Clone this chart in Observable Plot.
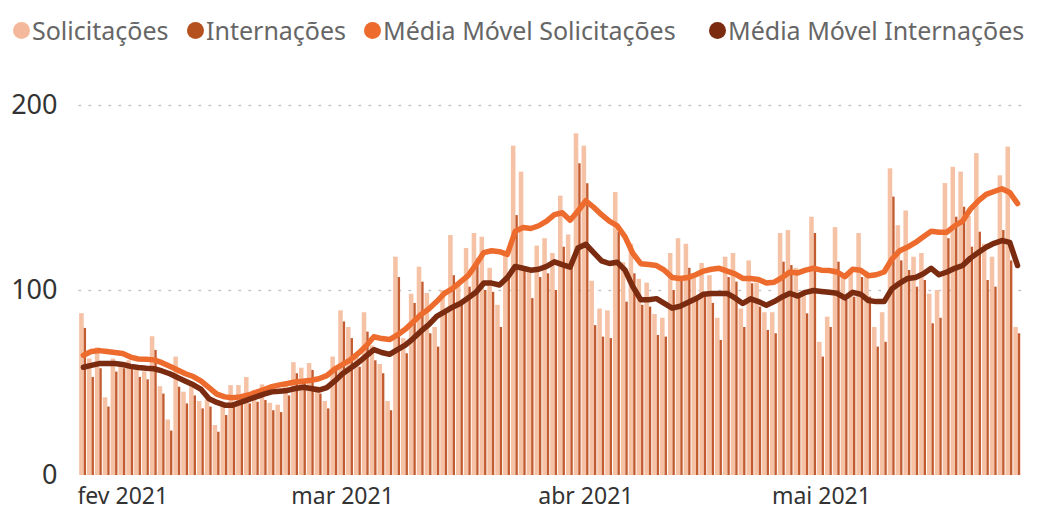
<!DOCTYPE html>
<html><head><meta charset="utf-8">
<script src="https://cdn.jsdelivr.net/npm/d3@7"></script>
<script src="https://cdn.jsdelivr.net/npm/@observablehq/plot@0.6"></script>
<style>
body{margin:0;background:#fff;font-family:"Noto Sans",sans-serif;}
#legend{position:relative;height:60px;width:1042px;}
.item{position:absolute;top:13px;display:flex;align-items:center;font-size:25px;color:#666;white-space:nowrap;line-height:34px}
.dot{width:17px;height:17px;border-radius:50%;margin-right:2px}
</style></head><body>
<div id="legend"></div><div id="chart"></div>
<script>
const startDate = "2021-01-27";
const solicitacoes = [87.5,63,69,42,63,61,62,57,56,75,48,30,64,45,48,40,41,27,37,48.6,48.6,53,46,49,39,38,50,61,58,60.5,48,40,64,89,80,66,88,70,60,40,118,74,98,112.6,98.4,80,100,129.7,103,122.7,130.8,128.8,112,92,120,178,164,110,124,128,120,151,130,184.7,178,105,90,89,153,115,125,106,104,87,85,120,128,125,108,114.6,108,85,118,120,90,116,104,88,88,130.8,132.4,112,100,139.6,72,85.6,134,108,110,130.8,110,80,88,165.8,135,143,118,120,98,100,157.8,166.6,164,140,174,125,118,162,177.5,80];
const internacoes = [79.5,53,57.7,37,55.9,57.7,57.7,53,51.7,67.6,44,24,47.7,38.7,43,36,37,23.4,32.4,37,38.7,38.7,39.6,40.5,35,34,43,55,49.7,56.8,44,36,57.8,83,74,58.5,77.5,62,55,35,107,65.8,93,104.5,76.6,69.4,87.4,108,92,101.8,117,100,99,80,107,140.5,112.6,95.6,107,109,100,123.4,112.6,168.5,157.7,81,74.8,74,131.5,93.7,109,92,91,75.7,74.8,100,105.4,112,94.6,98.4,93,73,107,104.5,80,103.6,91,78.4,76.6,115.3,113.5,98.4,87.4,130.8,64,80,115.3,94.6,96.4,107,96.4,69.4,72,150.5,116,110.8,101.8,105.4,82,85,128,139.6,145,123.4,131.5,105.4,101.8,132.4,116,76.6];
const mediaSolicitacoes = [65,67,67.5,67,66.5,66,64,63,62.8,62.5,61,59,57,55,53.5,51,47.5,44,42.5,42,42.5,43.5,45,46.5,48,49,49.7,50.5,51,51.5,52.3,54,57.5,60,62.5,66,70,75,74,73.5,76,79,83,87,90,94,98.5,101,104.5,108,114,120.5,121.5,121,119.5,132,134,133.5,135,137.5,141,142,138,143,148.5,145,141,137.5,135,129,120,114.5,114,113.5,111,107,106.5,107,108.5,110.5,111.5,112,110.5,109,106.5,106.5,106,104,104.5,107,110,109.5,111,112,111,110.8,110,107.5,111.5,111,108,108.5,110,117,121.5,123.5,126,129,132,131.5,131.5,135,137.5,144,148.5,152,153.5,155,153,147];
const mediaInternacoes = [58.5,59.5,60.5,60.5,60.5,60,59,58.4,58,57.7,56.5,55,53,51,49,46.5,41.5,39.5,38,38,39.5,41,42.5,44,45.2,45.6,46,47,47.7,47,46.2,47.5,51,55,58,61,64.5,68,66.5,65.5,68,70.5,74,78,81.5,86,88.5,91,93,96,99,104,104,103,107,113,112,111,111.5,113,115.5,114,112.6,123,125,120.5,116,114.6,115.3,111,102,95,95,95.6,93,90.5,91.5,93.5,95.5,98,98.4,98.4,98.4,96,93,95.5,94,92,94,96.5,98.5,97,99,100,99.5,99,98.5,96,99,98,94.6,94,94,101,104,106.5,107,109,112,108.5,110,112,113.5,117.5,120.5,123.4,125.5,127,126,113.5];
const legendLabels = ["Solicitações","Internações","Média Móvel Solicitações","Média Móvel Internações"];
const legendColors = ["#f4b99c","#b5501f","#ec6b2d","#7a2b10"];
const legendX = [13, 187, 364, 709];
const monthTicks = ["2021-02-01","2021-03-01","2021-04-01","2021-05-01"];
const monthLabels = ["fev 2021","mar 2021","abr 2021","mai 2021"];
const yTicks = [0,100,200];

const DAY = 864e5;
const t0 = new Date(startDate + "T00:00:00Z");
const rows = solicitacoes.map((s, i) => ({
  date: new Date(+t0 + i*DAY),
  sol: s, int: internacoes[i], mSol: mediaSolicitacoes[i], mInt: mediaInternacoes[i]
}));
const off = (d, f) => new Date(+d + f*DAY);

const legend = document.getElementById("legend");
legendLabels.forEach((l, i) => {
  const it = document.createElement("div");
  it.className = "item"; it.style.left = legendX[i] + "px";
  it.innerHTML = `<span class="dot" style="background:${legendColors[i]}"></span><span>${l}</span>`;
  legend.appendChild(it);
});

const tickDates = monthTicks.map(d => new Date(d + "T00:00:00Z"));
const chart = Plot.plot({
  width: 1042, height: 457,
  marginLeft: 79, marginRight: 21, marginTop: 45, marginBottom: 42,
  style: {fontFamily: "Noto Sans, sans-serif", background: "#fff"},
  x: {type: "utc", domain: [t0, new Date(+t0 + solicitacoes.length*DAY)]},
  y: {domain: [0, 200]},
  marks: [
    Plot.ruleY([100, 200], {stroke: "#c4c4c4", strokeWidth: 1.6, strokeDasharray: "1.5,8.5", strokeLinecap: "round"}),
    Plot.rectY(rows, {x1: d => off(d.date, 0.02), x2: d => off(d.date, 0.6), y: "sol", fill: "#f6c2a6"}),
    Plot.rectY(rows, {x1: d => off(d.date, 0.6), x2: d => off(d.date, 0.9), y: "int", fill: "#c25b30"}),
    Plot.line(rows, {x: d => off(d.date, 0.5), y: "mSol", stroke: "#ec6b2d", strokeWidth: 5.5, strokeLinejoin: "round", strokeLinecap: "round"}),
    Plot.line(rows, {x: d => off(d.date, 0.5), y: "mInt", stroke: "#7a2b10", strokeWidth: 5.5, strokeLinejoin: "round", strokeLinecap: "round"}),
    Plot.axisX({ticks: tickDates, tickFormat: (d, i) => monthLabels[i], tickSize: 0, tickPadding: 12, dx: 4, fontSize: 23, fill: "#333", label: null}),
    Plot.axisY({ticks: yTicks, tickSize: 0, tickPadding: 22, fontSize: 27, fill: "#333", label: null})
  ]
});
document.getElementById("chart").appendChild(chart);
</script>
</body></html>
